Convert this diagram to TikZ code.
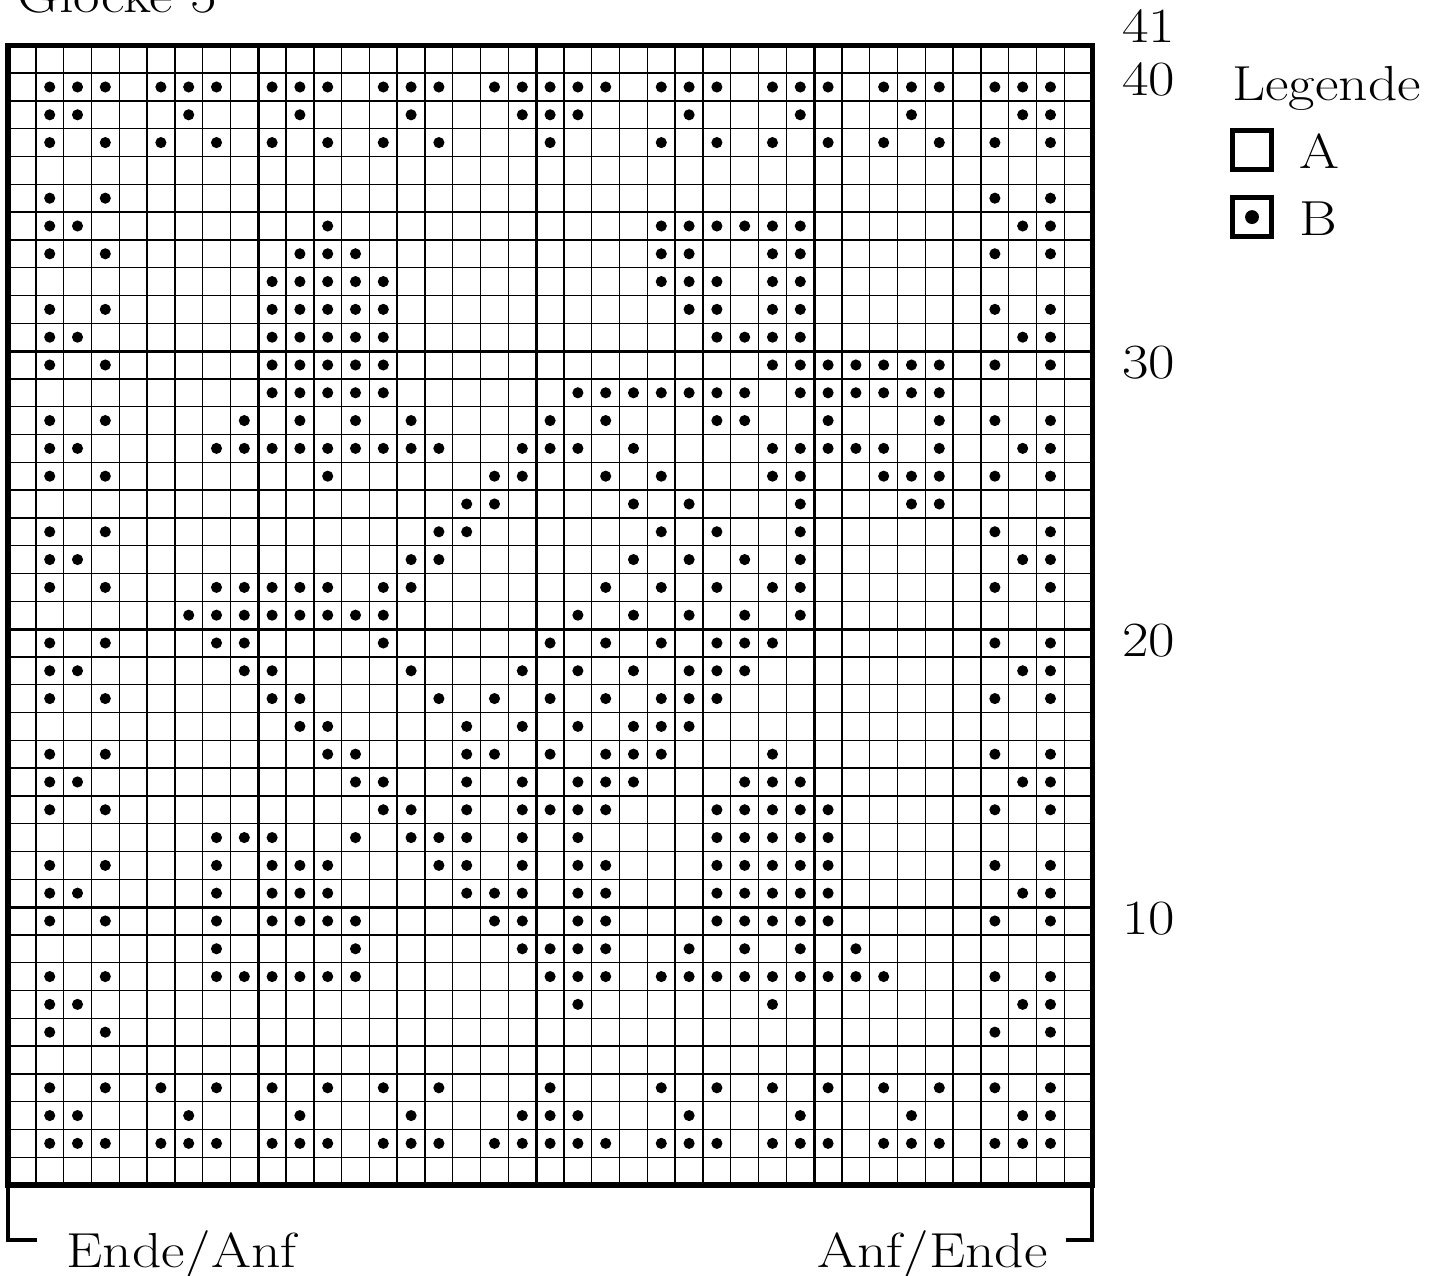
\documentclass[tikz,border=0pt]{standalone}
\usepackage{fontspec}
\setmainfont{Latin Modern Roman}[FakeStretch=1.17]
\usetikzlibrary{positioning}
\begin{document}
\begin{tikzpicture}
[x=0.556cm, y=0.556cm,
 gridline/.style={line width=0.8pt},
 tenline/.style={line width=1.7pt},
 frame/.style={line width=3pt},
 chartlabel/.style={font=\fontsize{28}{34}\selectfont, inner sep=0pt},
 keybox/.style={draw, line width=3pt, minimum size=0.78cm, inner sep=0pt}]
\useasboundingbox (-0.288,-3.237) rectangle (51.80,42.63);
%% title, cut at the top edge
\node[chartlabel, anchor=base west] (title) at (0.32, 42.19) {Glocke 5};
%% grid
\foreach \k in {1,...,38} \draw[gridline] (\k,0) -- (\k,41);
\foreach \k in {1,...,40} \draw[gridline] (0,\k) -- (39,\k);
\foreach \k in {9,19,29} \draw[tenline] (\k,0) -- (\k,41);
\foreach \k in {10,20,30} \draw[tenline] (0,\k) -- (39,\k);
\draw[frame] (0,0) rectangle (39,41);
\coordinate (sw) at (0,0);
\coordinate (se) at (39,0);
%% pattern B, row/columns
\foreach \r/\cols in {
  40/{2,3,4,6,7,8,10,11,12,14,15,16,18,19,20,21,22,24,25,26,28,29,30,32,33,34,36,37,38},
  39/{2,3,7,11,15,19,20,21,25,29,33,37,38},
  38/{2,4,6,8,10,12,14,16,20,24,26,28,30,32,34,36,38},
  36/{2,4,36,38},
  35/{2,3,12,24,25,26,27,28,29,37,38},
  34/{2,4,11,12,13,24,25,28,29,36,38},
  33/{10,11,12,13,14,24,25,26,28,29},
  32/{2,4,10,11,12,13,14,25,26,28,29,36,38},
  31/{2,3,10,11,12,13,14,26,27,28,29,37,38},
  30/{2,4,10,11,12,13,14,28,29,30,31,32,33,34,36,38},
  29/{10,11,12,13,14,21,22,23,24,25,26,27,29,30,31,32,33,34},
  28/{2,4,9,11,13,15,20,22,26,27,30,34,36,38},
  27/{2,3,8,9,10,11,12,13,14,15,16,19,20,21,23,28,29,30,31,32,34,37,38},
  26/{2,4,12,18,19,22,24,28,29,32,33,34,36,38},
  25/{17,18,23,25,29,33,34},
  24/{2,4,16,17,24,26,29,36,38},
  23/{2,3,15,16,23,25,27,29,37,38},
  22/{2,4,8,9,10,11,12,14,15,22,24,26,28,29,36,38},
  21/{7,8,9,10,11,12,13,14,21,23,25,27,29},
  20/{2,4,8,9,14,20,22,24,26,27,28,36,38},
  19/{2,3,9,10,15,19,21,23,25,26,27,37,38},
  18/{2,4,10,11,16,18,20,22,24,25,26,36,38},
  17/{11,12,17,19,21,23,24,25},
  16/{2,4,12,13,17,18,20,22,23,24,28,36,38},
  15/{2,3,13,14,17,19,21,22,23,27,28,29,37,38},
  14/{2,4,14,15,17,19,20,21,22,26,27,28,29,30,36,38},
  13/{8,9,10,13,15,16,17,19,21,26,27,28,29,30},
  12/{2,4,8,10,11,12,16,17,19,21,22,26,27,28,29,30,36,38},
  11/{2,3,8,10,11,12,17,18,19,21,22,26,27,28,29,30,37,38},
  10/{2,4,8,10,11,12,13,18,19,21,22,26,27,28,29,30,36,38},
  9/{8,13,19,20,21,22,25,27,29,31},
  8/{2,4,8,9,10,11,12,13,20,21,22,24,25,26,27,28,29,30,31,32,36,38},
  7/{2,3,21,28,37,38},
  6/{2,4,36,38},
  4/{2,4,6,8,10,12,14,16,20,24,26,28,30,32,34,36,38},
  3/{2,3,7,11,15,19,20,21,25,29,33,37,38},
  2/{2,3,4,6,7,8,10,11,12,14,15,16,18,19,20,21,22,24,25,26,28,29,30,32,33,34,36,37,38}}
  \foreach \c in \cols \fill (\c-0.5, \r-0.5) circle (0.2);
%% row numbers
\node[chartlabel, anchor=west] (n41) at (40.07, 41.69) {41};
\node[chartlabel, anchor=west] (n40) at (40.07, 39.77) {40};
\node[chartlabel, anchor=west] (n30) at (40.07, 29.6) {30};
\node[chartlabel, anchor=west] (n20) at (40.07, 19.6) {20};
\node[chartlabel, anchor=west] (n10) at (40.07, 9.6) {10};
%% legend
\node[chartlabel, anchor=base west] (legende) at (44.03, 39.03) {Legende};
\node[keybox] (keyA) at (44.75, 37.23) {};
\node[chartlabel, anchor=base west] (textA) at (46.44, 36.58) {A};
\node[keybox] (keyB) at (44.75, 34.82) {};
\fill (keyB.center) circle (0.25);
\node[chartlabel, anchor=base west] (textB) at (46.44, 34.17) {B};
%% start/end bracket
\draw[line width=2pt] (sw) -- ++(0,-1.98) -- ++(1.04,0);
\draw[line width=2pt] (se) -- ++(0,-1.98) -- ++(-0.94,0);
\node[chartlabel, anchor=base west] (ende) at (2.09, -2.95) {Ende/Anf};
\node[chartlabel, anchor=base east] (anf) at (37.41, -2.95) {Anf/Ende};
\end{tikzpicture}
\end{document}
